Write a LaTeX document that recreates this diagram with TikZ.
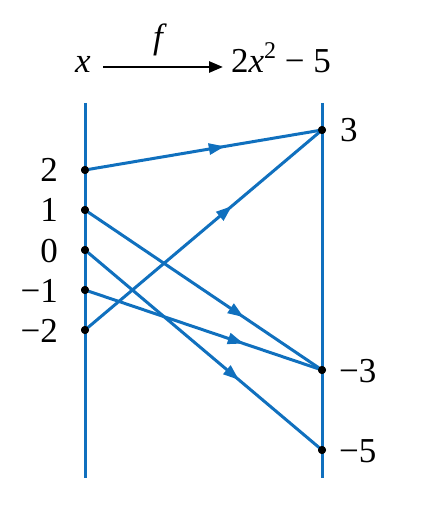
\documentclass[tikz,border=0pt]{standalone}
\usepackage{fontspec}
\setmainfont{Liberation Serif}
\usetikzlibrary{arrows.meta,decorations.markings}
\definecolor{lineblue}{RGB}{16,112,190}
\tikzset{
  axis/.style={draw=lineblue,line width=3pt},
  dot/.style={circle,fill=black,inner sep=0pt,minimum size=8pt},
  lbl/.style={inner sep=0pt,font=\fontsize{35}{40}\selectfont},
  mapline/.style={draw=lineblue,line width=3pt,postaction={decorate},
    decoration={markings,mark=at position #1 with {\arrow{Triangle[length=16pt,width=11pt]}}}},
  mapline/.default=0.6
}
\begin{document}
\begin{tikzpicture}[x=1pt,y=-1pt]
\useasboundingbox (0,0) rectangle (430,518);
% title
\node[lbl,anchor=base] (tx) at (83,73) {\textit{x}};
\node[lbl,anchor=base west] (tf) at (231,73) {2\textit{x}\raisebox{0.42em}{\fontsize{24}{26}\selectfont 2} − 5};
\node[lbl,anchor=base] (fl) at (160,49) {\textit{f}};
\coordinate (astart) at (103,67);
\coordinate (aend) at (223,67);
\draw[line width=2.6pt,-{Triangle[length=14pt,width=11pt]}] (astart) -- (aend);
% axes
\coordinate (LT) at (85,103);
\coordinate (LB) at (85,478);
\coordinate (RT) at (322,103);
\coordinate (RB) at (322,478);
\draw[axis] (LT) -- (LB);
\draw[axis] (RT) -- (RB);
% points
\node[dot] (L2) at (85,170) {};
\node[dot] (L1) at (85,210) {};
\node[dot] (L0) at (85,250) {};
\node[dot] (Lm1) at (85,290) {};
\node[dot] (Lm2) at (85,330) {};
\node[dot] (R3) at (322,130) {};
\node[dot] (Rm3) at (322,370) {};
\node[dot] (Rm5) at (322,450) {};
% labels
\node[lbl,anchor=base east] (l2) at (58,182) {2};
\node[lbl,anchor=base east] (l1) at (58,222) {1};
\node[lbl,anchor=base east] (l0) at (58,262) {0};
\node[lbl,anchor=base east] (lm1) at (58,302) {−1};
\node[lbl,anchor=base east] (lm2) at (58,342) {−2};
\node[lbl,anchor=base west] (r3) at (340,142) {3};
\node[lbl,anchor=base west] (rm3) at (339,382) {−3};
\node[lbl,anchor=base west] (rm5) at (339,462) {−5};
% mappings
\path[mapline=0.59] (L2.center) -- (R3.center);
\path[mapline=0.62] (Lm2.center) -- (R3.center);
\path[mapline=0.67] (L1.center) -- (Rm3.center);
\path[mapline=0.67] (Lm1.center) -- (Rm3.center);
\path[mapline=0.65] (L0.center) -- (Rm5.center);
% redraw dots on top
\foreach \p in {L2,L1,L0,Lm1,Lm2,R3,Rm3,Rm5} \fill (\p) circle (4pt);
\end{tikzpicture}
\end{document}
